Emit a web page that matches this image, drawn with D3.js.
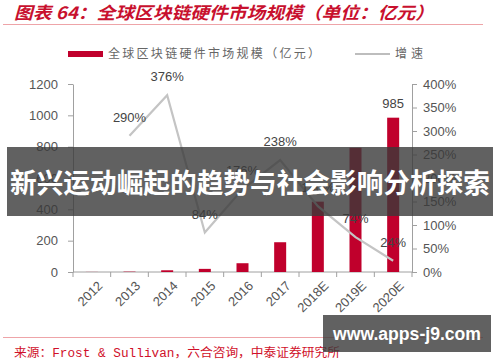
<!DOCTYPE html>
<html>
<head>
<meta charset="utf-8">
<script src="https://cdnjs.cloudflare.com/ajax/libs/d3/7.8.5/d3.min.js"></script>
<style>
  body { margin: 0; background: #fff; }
  svg { display: block; }
  .tick text { font-family: "Liberation Sans", Arial, sans-serif; font-size: 13px; fill: #555; }
  .axis path, .axis line { stroke: #a0a0a0; }
</style>
</head>
<body>
<svg width="500" height="362"></svg>
<script>
'use strict';

var years = ['2012', '2013', '2014', '2015', '2016', '2017', '2018E', '2019E', '2020E'];
var market = [0.6, 2.3, 11, 20, 56, 190, 449, 793, 985];
var growth = [null, 290, 376, 84, 176, 238, 140, 74, 24];
var leftTicks = [0, 200, 400, 600, 800, 1000, 1200];
var rightTicks = [0, 50, 100, 150, 200, 250, 300, 350, 400];

var svg = d3.select('svg');
var margin = { top: 84, right: 88, bottom: 90, left: 73 };
var width = 500, height = 362;
var innerWidth = width - margin.left - margin.right;
var innerHeight = height - margin.top - margin.bottom;
var red = '#c0002c';
var cjk = '"Noto Sans CJK SC", sans-serif';

var xScale = d3.scaleBand().domain(years).range([0, innerWidth]);
var yScale = d3.scaleLinear().domain([0, 1200]).range([innerHeight, 0]);
var y2Scale = d3.scaleLinear().domain([0, 400]).range([innerHeight, 0]);

// title
svg.append('text').attr('x', 14).attr('y', 19)
  .attr('font-family', cjk).attr('font-size', 17).attr('font-weight', 700)
  .attr('font-style', 'italic').attr('fill', '#c8102e')
  .attr('textLength', 420).attr('lengthAdjust', 'spacingAndGlyphs')
  .text('图表 64：全球区块链硬件市场规模（单位：亿元）');
svg.append('line').attr('x1', 3).attr('x2', 483).attr('y1', 24.5).attr('y2', 24.5)
  .attr('stroke', '#eea4a8').attr('stroke-width', 1.2);

// legend
var legend = svg.append('g').attr('class', 'legend');
legend.append('rect').attr('x', 68).attr('y', 51).attr('width', 35).attr('height', 6).attr('fill', red);
legend.append('text').attr('x', 108).attr('y', 58)
  .attr('font-family', cjk).attr('font-size', 12).attr('fill', '#666')
  .attr('textLength', 212).attr('lengthAdjust', 'spacing')
  .text('全球区块链硬件市场规模（亿元）');
legend.append('line').attr('x1', 355).attr('x2', 390).attr('y1', 54).attr('y2', 54)
  .attr('stroke', '#bdbdbd').attr('stroke-width', 2);
legend.append('text').attr('x', 395).attr('y', 58)
  .attr('font-family', cjk).attr('font-size', 12).attr('fill', '#666')
  .attr('textLength', 28).attr('lengthAdjust', 'spacing')
  .text('增速');

var inner = svg.append('g').attr('transform', 'translate(' + margin.left + ',' + margin.top + ')');

// axes
var xAxis = d3.axisBottom(xScale).tickSize(0).tickFormat(function (d) { return d; });
var xa = inner.append('g').attr('class', 'x axis').attr('transform', 'translate(0,' + innerHeight + ')').call(xAxis);
xa.select('.domain').attr('d', 'M0,0H' + innerWidth);
xa.selectAll('.tick text')
  .attr('text-anchor', 'end')
  .attr('transform', 'translate(5,8) rotate(-45)')
  .attr('dy', '0.71em').attr('y', 0);
xa.selectAll('.bound').data(d3.range(years.length + 1)).enter().append('line')
  .attr('class', 'bound')
  .attr('x1', function (i) { return xScale.step() * i; })
  .attr('x2', function (i) { return xScale.step() * i; })
  .attr('y1', 0).attr('y2', 5).attr('stroke', '#a0a0a0');

var ya = inner.append('g').attr('class', 'y axis')
  .call(d3.axisLeft(yScale).tickValues(leftTicks).tickSize(5).tickPadding(10).tickSizeOuter(0)
    .tickFormat(d3.format('d')));
var ya2 = inner.append('g').attr('class', 'y axis').attr('transform', 'translate(' + innerWidth + ',0)')
  .call(d3.axisRight(y2Scale).tickValues(rightTicks).tickSize(5).tickPadding(6).tickSizeOuter(0)
    .tickFormat(function (d) { return d + '%'; }));

// bars
inner.selectAll('.bar').data(market).enter().append('rect')
  .attr('class', 'bar')
  .attr('x', function (d, i) { return xScale(years[i]) + xScale.bandwidth() / 2 - 6; })
  .attr('width', 12)
  .attr('y', function (d) { return yScale(d); })
  .attr('height', function (d) { return innerHeight - yScale(d); })
  .attr('fill', red);

inner.append('text')
  .attr('x', xScale(years[8]) + xScale.bandwidth() / 2)
  .attr('y', yScale(market[8]) - 10)
  .attr('text-anchor', 'middle')
  .attr('font-family', '"Liberation Sans", Arial, sans-serif').attr('font-size', 13).attr('fill', '#444')
  .text(market[8]);

// growth line
var pts = growth.map(function (d, i) { return { v: d, x: years[i] }; }).filter(function (d) { return d.v !== null; });
var line = d3.line()
  .x(function (d) { return xScale(d.x) + xScale.bandwidth() / 2; })
  .y(function (d) { return y2Scale(d.v); });
inner.append('path').datum(pts).attr('d', line)
  .attr('fill', 'none').attr('stroke', '#c4c4c4').attr('stroke-width', 2.2);

inner.selectAll('.glabel').data(pts).enter().append('text')
  .attr('class', 'glabel')
  .attr('x', function (d) { return xScale(d.x) + xScale.bandwidth() / 2; })
  .attr('y', function (d) { return y2Scale(d.v) - 14; })
  .attr('text-anchor', 'middle')
  .attr('font-family', '"Liberation Sans", Arial, sans-serif').attr('font-size', 13).attr('fill', '#444')
  .text(function (d) { return d.v + '%'; });

// bottom rule + source
svg.append('line').attr('x1', 3).attr('x2', 483).attr('y1', 337.5).attr('y2', 337.5)
  .attr('stroke', '#eea4a8').attr('stroke-width', 1.2);
svg.append('text').attr('x', 14).attr('y', 357)
  .attr('font-family', '"Liberation Mono", "Noto Sans CJK SC", monospace').attr('font-size', 12)
  .attr('fill', '#d0102a')
  .attr('textLength', 326).attr('lengthAdjust', 'spacingAndGlyphs')
  .text('来源：Frost & Sullivan，六合咨询，中泰证券研究所');

// overlay banners
svg.append('rect').attr('x', 7).attr('y', 147).attr('width', 486).attr('height', 69)
  .attr('fill', '#3a3a3a').attr('opacity', 0.8);
svg.append('text').attr('x', 250).attr('y', 193)
  .attr('text-anchor', 'middle')
  .attr('font-family', cjk).attr('font-size', 27).attr('font-weight', 700).attr('fill', '#fff')
  .attr('textLength', 480).attr('lengthAdjust', 'spacingAndGlyphs')
  .text('新兴运动崛起的趋势与社会影响分析探索');
svg.append('rect').attr('x', 323).attr('y', 315).attr('width', 168).attr('height', 37)
  .attr('fill', '#3a3a3a').attr('opacity', 0.8);
svg.append('text').attr('x', 407).attr('y', 340)
  .attr('text-anchor', 'middle')
  .attr('font-family', '"Liberation Sans", Arial, sans-serif').attr('font-size', 18).attr('font-weight', 700).attr('fill', '#fff')
  .attr('textLength', 148).attr('lengthAdjust', 'spacingAndGlyphs')
  .text('www.apps-j9.com');
</script>
</body>
</html>
